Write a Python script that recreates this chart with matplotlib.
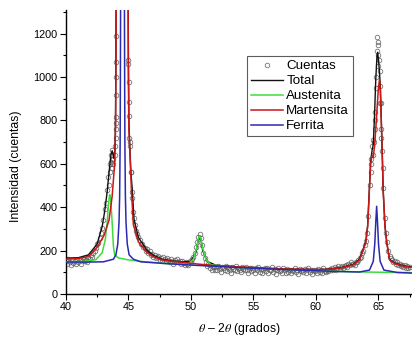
import numpy as np
import matplotlib
matplotlib.use("Agg")
import matplotlib.pyplot as plt
from matplotlib.ticker import MultipleLocator

plt.rcParams['font.family'] = ['Liberation Sans', 'DejaVu Sans']
plt.rcParams['mathtext.fontset'] = 'stix'

# ---------------- data ----------------
# measured counts, sampled every 0.1 degree from 40.0 to 67.5
counts_start = 40.0
counts_step = 0.1
counts_y = [
    152, 138, 160, 145, 135, 158, 142, 150, 137, 155,   # 40
    148, 160, 140, 152, 165, 150, 158, 145, 170, 162,   # 41
    180, 172, 190, 198, 210, 228, 236, 258, 280, 305,   # 42
    340, 390, 420, 480, 540, 600, 640, 665, 620, 640,   # 43
    790, 2800, 4000, 5000, 6000, 6000, 6000, 5000, 4000, 2800,  # 44
    1060, 700, 560, 470, 380, 320, 290, 275, 262, 250,  # 45
    232, 228, 215, 212, 198, 205, 190, 196, 178, 185,   # 46
    172, 180, 165, 170, 176, 158, 165, 152, 170, 160,   # 47
    150, 165, 158, 145, 160, 152, 140, 155, 148, 160,   # 48
    145, 152, 138, 150, 142, 135, 148, 140, 132, 150,   # 49
    145, 160, 172, 190, 215, 240, 262, 275, 258, 225,   # 50
    190, 165, 145, 128, 140, 118, 132, 112, 125, 108,   # 51
    122, 108, 130, 115, 102, 125, 118, 110, 128, 105,   # 52
    120, 112, 98, 125, 115, 108, 130, 104, 118, 112,    # 53
    100, 122, 115, 108, 126, 110, 98, 118, 105, 120,    # 54
    112, 95, 118, 108, 125, 102, 115, 98, 110, 120,     # 55
    105, 118, 96, 112, 108, 122, 100, 115, 92, 110,     # 56
    118, 105, 112, 98, 120, 108, 95, 114, 102, 110,     # 57
    96, 112, 105, 118, 100, 108, 92, 115, 104, 110,     # 58
    100, 115, 95, 108, 120, 102, 110, 94, 112, 105,     # 59
    108, 98, 115, 102, 110, 96, 120, 105, 100, 112,     # 60
    104, 115, 108, 120, 112, 125, 110, 118, 128, 115,   # 61
    122, 130, 118, 128, 135, 125, 140, 132, 145, 138,   # 62
    140, 132, 148, 145, 158, 165, 172, 190, 200, 225,   # 63
    245, 280, 360, 500, 620, 680, 710, 840, 1000, 1120, # 64
    1160, 1030, 880, 660, 490, 350, 280, 240, 200, 175, # 65
    165, 158, 148, 152, 138, 145, 132, 140, 128, 135,   # 66
    125, 132, 120, 128, 118, 125,                       # 67
]
# extra measured counts on the steep peak flanks
flank_x = [43.45, 43.55, 43.62, 43.65, 43.68, 43.72, 43.75, 43.94, 43.98, 44.0, 44.01, 44.015, 44.02,
           44.025, 44.03, 45.0, 45.01, 45.02, 45.03, 45.06, 45.1, 45.18, 45.3, 45.42,
           64.42, 64.45, 64.55, 64.62, 64.72, 64.75, 64.85, 64.92, 64.94, 64.95, 64.97,
           65.05, 65.12, 65.15, 65.22, 65.25, 65.35]
flank_y = [500, 560, 610, 580, 620, 640, 600, 680, 720, 760, 815, 915, 1000,
           1070, 1190, 1080, 975, 885, 820, 720, 680, 560, 440, 350,
           600, 560, 640, 700, 760, 800, 950, 1185, 1150, 1100, 1050,
           1080, 960, 880, 760, 720, 580]

# Total fit
total_x = [40, 41, 41.8, 42.5, 42.9, 43.1, 43.3, 43.45, 43.6, 43.7, 43.78, 43.85, 43.92, 43.97, 44.0,
           44.03, 44.1, 44.5, 44.9, 44.97, 45.0, 45.04, 45.1, 45.2, 45.3, 45.45, 45.8, 46.5, 47.0, 47.7,
           48.5, 49.3, 50.0, 50.4, 50.6, 50.7, 50.8, 50.95, 51.3, 52, 54, 56, 58, 60, 61, 62, 63,
           63.5, 64.0, 64.15, 64.28, 64.39, 64.5, 64.6, 64.7, 64.8, 64.9, 64.95, 65.02, 65.1,
           65.17, 65.25, 65.33, 65.4, 65.54, 65.68, 65.9, 66.3, 67.0, 67.7]
total_y = [165, 167, 180, 230, 310, 380, 470, 560, 640, 660, 640, 625, 660, 800, 1100,
           1600, 3000, 6000, 3000, 1600, 1100, 800, 700, 560, 490, 345, 260, 200, 178, 160,
           152, 148, 150, 190, 250, 268, 255, 200, 150, 132, 124, 118, 114, 112, 114, 121, 136,
           160, 240, 315, 475, 610, 660, 690, 820, 990, 1100, 1114, 1080, 1020,
           950, 790, 625, 470, 312, 238, 160, 142, 130, 124]

# Austenita fit
aust_x = [40, 41.5, 42.4, 42.9, 43.15, 43.3, 43.42, 43.5, 43.58, 43.7, 43.8, 43.9, 44.2, 45, 46,
          47, 48, 49, 49.8, 50.2, 50.45, 50.6, 50.7, 50.8, 50.95, 51.2, 51.6, 53, 56, 60, 63,
          65, 67.7]
aust_y = [148, 150, 158, 190, 250, 330, 420, 458, 440, 330, 220, 180, 166, 157, 150,
          145, 140, 137, 140, 160, 210, 255, 268, 255, 210, 160, 135, 124, 116, 107, 102,
          100, 98]

# Martensita fit
mart_x = [40, 41, 41.8, 42.5, 43.05, 43.45, 43.7, 43.9, 43.97, 44.0, 44.02, 44.1, 44.5, 44.9,
          44.98, 45.0, 45.04, 45.15, 45.25, 45.4, 45.8, 46.5, 47.0, 47.7, 48.5, 49.3, 50.5, 52,
          54, 56, 58, 60, 61, 62, 63, 63.5, 64.0, 64.15, 64.28, 64.39, 64.5, 64.6, 64.7, 64.8,
          64.9, 65.0, 65.1, 65.17, 65.25, 65.33, 65.4, 65.54, 65.68, 65.9, 66.3, 67.0, 67.7]
mart_y = [160, 163, 172, 215, 270, 340, 450, 600, 760, 1000, 1300, 2500, 5000, 2500,
          1300, 1000, 760, 610, 470, 320, 240, 190, 172, 157, 150, 146, 138, 130,
          124, 118, 114, 112, 113, 120, 134, 157, 236, 310, 467, 600, 640, 630, 680, 760,
          850, 940, 990, 930, 780, 620, 467, 310, 236, 157, 140, 128, 122]

# Ferrita fit
ferr_x = [40, 42, 43, 43.8, 44.0, 44.15, 44.25, 44.3, 44.34, 44.36, 44.38, 44.53, 44.68, 44.7,
          44.72, 44.76, 44.81, 44.91, 45.06, 45.4, 46, 48, 50, 52, 54, 56, 58, 60, 62, 63.5,
          64.3, 64.6, 64.72, 64.8, 64.87, 64.94, 65.02, 65.15, 65.45, 66.5, 67.7]
ferr_y = [147, 147, 148, 160, 180, 230, 330, 450, 700, 1000, 1400, 5000, 1400, 1000,
          700, 450, 330, 230, 180, 160, 148, 140, 133, 127, 121, 116, 111, 107, 103, 101,
          110, 150, 230, 330, 404, 330, 230, 150, 110, 99, 96]

series_labels = ["Cuentas", "Total", "Austenita", "Martensita", "Ferrita"]
x_ticks = [40, 45, 50, 55, 60, 65]
y_ticks = [0, 200, 400, 600, 800, 1000, 1200]

# ---------------- plot ----------------
fig = plt.figure(figsize=(4.12, 3.39), dpi=100)
ax = fig.add_axes([0.160, 0.133, 0.840, 0.838])

cx = counts_start + counts_step * np.arange(len(counts_y))
all_cx = np.concatenate([cx, flank_x])
all_cy = np.concatenate([counts_y, flank_y])
ax.plot(all_cx, all_cy, linestyle='none', marker='o', markersize=3.3,
        markerfacecolor='none', markeredgecolor='#5e5e5e', markeredgewidth=0.6,
        alpha=0.85, zorder=1, label=series_labels[0])

ax.plot(total_x, total_y, color='#111111', lw=1.0, zorder=2, label=series_labels[1])
ax.plot(aust_x, aust_y, color='#3ddc3d', lw=1.1, zorder=3, label=series_labels[2])
ax.plot(mart_x, mart_y, color='#c81818', lw=1.1, zorder=4, label=series_labels[3])
ax.plot(ferr_x, ferr_y, color='#2a2ab0', lw=1.1, zorder=5, label=series_labels[4])

ax.set_xlim(40, 67.7)
ax.set_ylim(0, 1310)
ax.set_xticks(x_ticks)
ax.set_yticks(y_ticks)
ax.xaxis.set_minor_locator(MultipleLocator(2.5))
ax.yaxis.set_minor_locator(MultipleLocator(100))
ax.tick_params(which='major', direction='out', length=4, width=0.8, labelsize=7.8, pad=2)
ax.tick_params(which='minor', direction='out', length=2.5, width=0.8)

for s in ['top', 'right']:
    ax.spines[s].set_visible(False)
for s in ['left', 'bottom']:
    ax.spines[s].set_linewidth(1.0)

ax.set_ylabel("Intensidad (cuentas)", fontsize=8.8, labelpad=8)
ax.yaxis.set_label_coords(-0.128, 0.45)
ax.set_xlabel(r"$\theta$ – 2$\theta$ (grados)", fontsize=8.8, labelpad=6)

leg = ax.legend(loc='upper left', bbox_to_anchor=(0.523, 0.838), borderaxespad=0,
                fontsize=9.6, frameon=True, fancybox=False, handlelength=2.4,
                handletextpad=0.25, labelspacing=0.2, borderpad=0.3, numpoints=1)
leg.get_frame().set_edgecolor('#333333')
leg.get_frame().set_linewidth(0.8)

fig.savefig("out.png", dpi=100)
